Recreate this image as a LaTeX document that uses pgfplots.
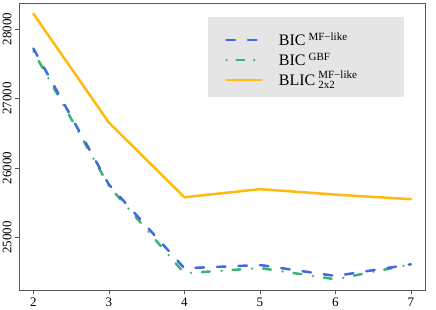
\documentclass[border=0pt]{standalone}
\usepackage{fontspec}
\setmainfont{Liberation Serif}
\usepackage{pgfplots}
\pgfplotsset{compat=1.18}
\definecolor{cblue}{HTML}{4169E1}
\definecolor{cgreen}{HTML}{3CB371}
\definecolor{corange}{HTML}{FFB90F}
\definecolor{legbg}{HTML}{E5E5E5}
\begin{document}
\begin{tikzpicture}
\begin{axis}[
  at={(0pt,0pt)}, anchor=south west,
  scale only axis, width=406pt, height=287pt,
  xmin=1.81, xmax=7.186, ymin=24240, ymax=28375,
  axis line style={black!65, line width=0.7pt},
  xtick={2,3,4,5,6,7},
  ytick={25000,26000,27000,28000},
  scaled y ticks=false,
  tick align=outside, major tick length=4pt,
  xtick pos=left, ytick pos=left,
  tick style={black!65, line width=0.6pt},
  /pgf/number format/assume math mode=true,
  /pgf/number format/set thousands separator={},
  ticklabel style={font=\fontsize{13}{15}\selectfont},
  yticklabel style={rotate=90, anchor=south, xshift=0pt},
  xticklabel style={anchor=north, yshift=0pt},
  legend image code/.code={\draw[#1] (1.25pt,1.7pt) -- (36.45pt,1.7pt);},
  legend style={at={(rel axis cs:0.5074,0.9)}, anchor=north west,
    draw=none, fill=none, inner sep=0pt, row sep=0pt, column sep=16pt,
    font=\fontsize{16}{18}\selectfont,
    nodes={inner sep=0pt, text height=14pt, text depth=6pt}},
  legend cell align=left,
]
\fill[legbg] (rel axis cs:0.4655,0.6725) rectangle (rel axis cs:0.9483,0.9512);
\addplot[corange, line width=2.5pt, line cap=round, line join=round, forget plot] coordinates {
(2,28221) (3,26652) (4,25576) (5,25693) (6,25615) (7,25548)};
\addplot[cgreen, line width=2.5pt, line cap=round, dash pattern=on 0pt off 11pt on 7.8pt off 11.9pt, forget plot] coordinates {
(2,27677) (3,25740) (4,24480) (5,24557) (6,24394) (7,24610)};
\addplot[cblue, line width=2.5pt, line cap=round, dash pattern=on 8.5pt off 13pt, forget plot] coordinates {
(2,27720) (3,25760) (4,24553) (5,24600) (6,24442) (7,24610)};
\addlegendimage{cblue, line width=2.5pt, line cap=round, dash pattern=on 8.5pt off 13pt}
\addlegendentry{BIC\hspace{3pt}\raisebox{5.4pt}{\fontsize{11}{11}\selectfont MF−like}}
\addlegendimage{cgreen, line width=2.5pt, line cap=round, dash pattern=on 0pt off 10pt on 7.8pt off 10pt}
\addlegendentry{BIC\hspace{3pt}\raisebox{5.4pt}{\fontsize{11}{11}\selectfont GBF}}
\addlegendimage{corange, line width=2.5pt, line cap=round}
\addlegendentry{BLIC\hspace{3pt}\rlap{\raisebox{-2.6pt}{\fontsize{11}{11}\selectfont 2x2}}\raisebox{7.4pt}{\fontsize{11}{11}\selectfont MF−like}}
\end{axis}
\pgfresetboundingbox
\path (-19pt,-19pt) rectangle (417pt,290pt);
\end{tikzpicture}
\end{document}
